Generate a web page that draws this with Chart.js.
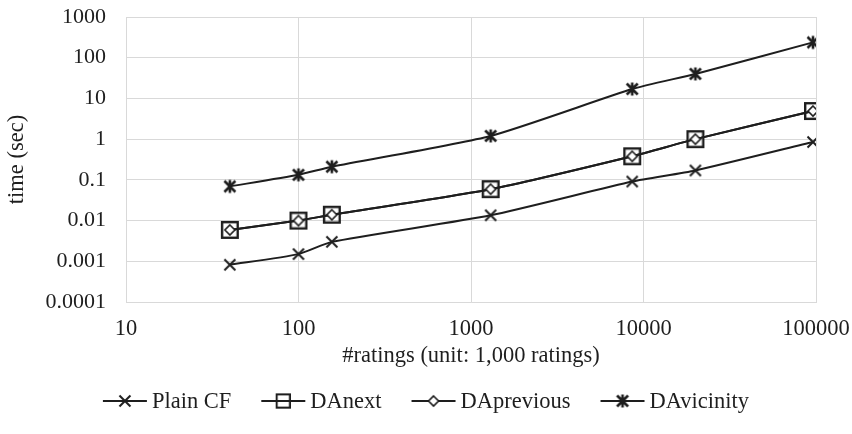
<!DOCTYPE html>
<html>
<head>
<meta charset="utf-8">
<script src="https://cdn.jsdelivr.net/npm/chart.js@4.4.1/dist/chart.umd.min.js"></script>
<style>
  html, body { margin: 0; padding: 0; background: #fff; }
  #wrap { width: 852px; height: 434px; position: relative; }
</style>
</head>
<body>
<div id="wrap"><canvas id="c" width="852" height="434"></canvas></div>
<script>
// Dataset sizes (thousands of ratings) and run times in seconds
const sizes = [40, 100, 156, 1300, 8600, 20000, 96000];
const plainCF = [0.00082, 0.0015, 0.0030, 0.0135, 0.091, 0.17, 0.85];
const daNext = [0.0059, 0.0100, 0.0139, 0.059, 0.38, 1.0, 4.9];
const daPrevious = [0.0059, 0.0100, 0.0139, 0.059, 0.38, 1.0, 4.9];
const daVicinity = [0.069, 0.133, 0.21, 1.2, 17, 40, 238];

const seriesNames = ['Plain CF', 'DAnext', 'DAprevious', 'DAvicinity'];
const xTicks = [10, 100, 1000, 10000, 100000];
const yTicks = [0.0001, 0.001, 0.01, 0.1, 1, 10, 100, 1000];
const yTickLabels = ['0.0001', '0.001', '0.01', '0.1', '1', '10', '100', '1000'];

const INK = '#1e1e1e';
const FONT = '"Liberation Serif", "Times New Roman", serif';
const TEXT_SIZE = 22.5;

// marker glyphs drawn onto small canvases
function glyph(size, draw) {
  const cv = document.createElement('canvas');
  cv.width = size; cv.height = size;
  const g = cv.getContext('2d');
  g.strokeStyle = INK; g.lineCap = 'butt';
  draw(g, size / 2);
  return cv;
}
const markX = glyph(16, (g, c) => {
  g.lineWidth = 2; const r = 5.5;
  g.beginPath();
  g.moveTo(c - r, c - r); g.lineTo(c + r, c + r);
  g.moveTo(c + r, c - r); g.lineTo(c - r, c + r);
  g.stroke();
});
const markSquare = glyph(20, (g, c) => {
  g.lineWidth = 2.4; const r = 7.8;
  g.strokeRect(c - r, c - r, 2 * r, 2 * r);
});
const markDiamond = glyph(16, (g, c) => {
  g.lineWidth = 1.6; const r = 5;
  g.fillStyle = '#fff';
  g.beginPath();
  g.moveTo(c, c - r); g.lineTo(c + r, c); g.lineTo(c, c + r); g.lineTo(c - r, c);
  g.closePath(); g.fill(); g.stroke();
});
const markStar = glyph(16, (g, c) => {
  g.lineWidth = 2.6; const r = 5.5;
  g.beginPath();
  g.moveTo(c - r, c - r); g.lineTo(c + r, c + r);
  g.moveTo(c + r, c - r); g.lineTo(c - r, c + r);
  g.moveTo(c, c - r - 1); g.lineTo(c, c + r + 1);
  g.stroke();
});
const markers = [markX, markSquare, markDiamond, markStar];
const values = [plainCF, daNext, daPrevious, daVicinity];

function series(i, order) {
  return {
    label: seriesNames[i],
    data: sizes.map((x, k) => ({ x: x, y: values[i][k] })),
    borderColor: INK,
    borderWidth: 2,
    tension: 0.2,
    pointStyle: markers[i],
    pointRadius: 6,
    pointHoverRadius: 6,
    fill: false,
    order: order
  };
}

// legend: line segment with the series marker, then the name
const lineLegend = {
  id: 'lineLegend',
  afterDraw(chart) {
    const ctx = chart.ctx;
    ctx.save();
    ctx.font = TEXT_SIZE + 'px ' + FONT;
    ctx.textBaseline = 'middle';
    const segment = 44, gap = 5, spacing = 30, y = 401;
    const widths = seriesNames.map(n => ctx.measureText(n).width);
    const total = widths.reduce((a, w) => a + segment + gap + w, 0) + spacing * (seriesNames.length - 1);
    let x = (chart.width - total) / 2;
    seriesNames.forEach((name, i) => {
      ctx.strokeStyle = INK; ctx.lineWidth = 2;
      ctx.beginPath(); ctx.moveTo(x, y); ctx.lineTo(x + segment, y); ctx.stroke();
      const m = markers[i];
      const s = i === 1 ? 0.85 : 1;
      ctx.drawImage(m, x + segment / 2 - m.width * s / 2, y - m.height * s / 2, m.width * s, m.height * s);
      ctx.fillStyle = INK;
      ctx.fillText(name, x + segment + gap, y + 1);
      x += segment + gap + widths[i] + spacing;
    });
    ctx.restore();
  }
};

new Chart(document.getElementById('c'), {
  type: 'line',
  data: {
    datasets: [series(0, 3), series(1, 2), series(2, 1), series(3, 0)]
  },
  options: {
    responsive: false,
    animation: false,
    events: [],
    layout: { padding: { top: 17, right: 36, bottom: 60, left: 0 } },
    plugins: { legend: { display: false }, tooltip: { enabled: false } },
    scales: {
      x: {
        type: 'logarithmic',
        min: 10, max: 100000,
        afterBuildTicks(axis) { axis.ticks = xTicks.map(v => ({ value: v })); },
        afterFit(axis) { axis.height = 72; axis.paddingLeft = 0; axis.paddingRight = 0; },
        ticks: {
          color: INK, font: { family: FONT, size: TEXT_SIZE }, padding: 14,
          maxRotation: 0, autoSkip: false,
          callback: v => String(v)
        },
        grid: { color: '#d9d9d9', lineWidth: 1, drawTicks: false },
        border: { color: '#d9d9d9' },
        title: {
          display: true, text: '#ratings (unit: 1,000 ratings)',
          color: INK, font: { family: FONT, size: TEXT_SIZE }, padding: { top: 4, bottom: 4 }
        }
      },
      y: {
        type: 'logarithmic',
        min: 0.0001, max: 1000,
        afterBuildTicks(axis) { axis.ticks = yTicks.map(v => ({ value: v })); },
        afterFit(axis) { axis.width = 126; axis.paddingTop = 0; axis.paddingBottom = 0; },
        ticks: {
          color: INK, font: { family: FONT, size: 22 }, padding: 20,
          autoSkip: false,
          callback: (v) => yTickLabels[yTicks.findIndex(t => Math.abs(Math.log10(t) - Math.log10(v)) < 1e-6)]
        },
        grid: { color: '#d9d9d9', lineWidth: 1, drawTicks: false },
        border: { color: '#d9d9d9' },
        title: {
          display: true, text: 'time (sec)',
          color: INK, font: { family: FONT, size: TEXT_SIZE }, padding: { top: 4, bottom: 4 }
        }
      }
    }
  },
  plugins: [lineLegend]
});
</script>
</body>
</html>
